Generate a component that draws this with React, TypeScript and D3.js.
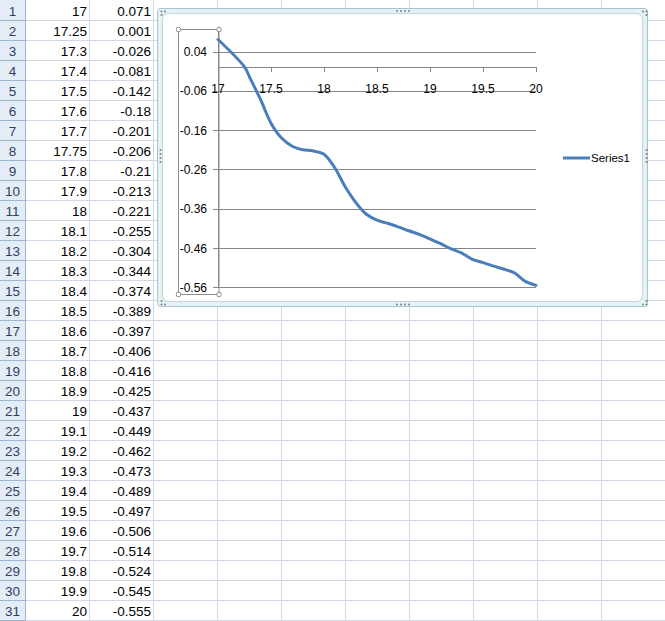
import React from "react";
import * as d3 from "d3";

const xValues = [17, 17.25, 17.3, 17.4, 17.5, 17.6, 17.7, 17.75, 17.8, 17.9, 18, 18.1, 18.2, 18.3, 18.4, 18.5, 18.6, 18.7, 18.8, 18.9, 19, 19.1, 19.2, 19.3, 19.4, 19.5, 19.6, 19.7, 19.8, 19.9, 20];
const yValues = [0.071, 0.001, -0.026, -0.081, -0.142, -0.18, -0.201, -0.206, -0.21, -0.213, -0.221, -0.255, -0.304, -0.344, -0.374, -0.389, -0.397, -0.406, -0.416, -0.425, -0.437, -0.449, -0.462, -0.473, -0.489, -0.497, -0.506, -0.514, -0.524, -0.545, -0.555];
const yTickLabels = ["0.04", "-0.06", "-0.16", "-0.26", "-0.36", "-0.46", "-0.56"];
const xTickLabels = ["17", "17.5", "18", "18.5", "19", "19.5", "20"];
const seriesName = "Series1";

const W = 665;
const H = 621;
const ROW_H = 20;
const HEADER_W = 25;
const COL_W = 64;
const FONT = "'Liberation Sans', Arial, sans-serif";
const LINE_COLOR = "#4a7ebb";

export default function App() {
  const x = d3.scaleLinear().domain([17, 20]).range([218, 536]);
  const y = d3.scaleLinear().domain([-0.56, 0.1]).range([287.3, 28.1]);
  const pts: [number, number][] = xValues.map((v, i) => [v, yValues[i]]);
  const line = d3
    .line<[number, number]>()
    .x((d) => x(d[0]))
    .y((d) => y(d[1]))
    .curve(d3.curveCatmullRom.alpha(0.5));

  const rows = d3.range(31);
  const colLines = d3.range(11).map((i) => HEADER_W + i * COL_W);
  const y0 = y(0);
  const plotLeft = x(17);
  const plotRight = x(20);

  const dot = (cx: number, cy: number, k: string) => (
    <rect key={k} x={cx - 0.8} y={cy - 0.8} width={1.6} height={1.6} fill="#6f6f6f" />
  );

  return (
    <svg
      width={W}
      height={H}
      style={{ position: "absolute", left: 0, top: 0, background: "#fff" }}
      fontFamily={FONT}
    >
      {/* spreadsheet grid */}
      <rect x={0} y={0} width={HEADER_W} height={H} fill="#e4ecf7" />
      {rows.map((r) => (
        <line key={"h" + r} x1={0} x2={W} y1={21 + r * ROW_H - 0.5} y2={21 + r * ROW_H - 0.5} stroke="#d0d7e5" />
      ))}
      {rows.map((r) => (
        <line key={"hh" + r} x1={0} x2={HEADER_W} y1={21 + r * ROW_H - 0.5} y2={21 + r * ROW_H - 0.5} stroke="#9eb6ce" />
      ))}
      {colLines.map((cx, i) => (
        <line key={"v" + i} x1={cx + 0.5} x2={cx + 0.5} y1={0} y2={H} stroke={i === 0 ? "#9eb6ce" : "#d0d7e5"} />
      ))}
      {rows.map((r) => (
        <g key={"t" + r} fontSize={13.5}>
          <text x={12.5} y={11 + r * ROW_H + 5} textAnchor="middle" fill="#2f3f5f">
            {r + 1}
          </text>
          <text x={87} y={11 + r * ROW_H + 5} textAnchor="end" fill="#000">
            {String(xValues[r])}
          </text>
          <text x={151} y={11 + r * ROW_H + 5} textAnchor="end" fill="#000">
            {String(yValues[r])}
          </text>
        </g>
      ))}

      {/* chart frame */}
      <rect x={157.5} y={8.5} width={490} height={298} fill="#e3f2f5" stroke="#a9c4cc" rx={3} />
      <rect x={162.5} y={13.5} width={480} height={288} fill="#fff" stroke="#c6d3d8" rx={6} />
      {[397, 401, 405, 409].map((cx, i) => dot(cx, 11, "tm" + i))}
      {[397, 401, 405, 409].map((cx, i) => dot(cx, 304.5, "bm" + i))}
      {[150, 154, 158, 162].map((cy, i) => dot(160.5, cy, "lm" + i))}
      {[150, 154, 158, 162].map((cy, i) => dot(646.5, cy, "rm" + i))}
      {dot(161.5, 11.5, "c1")}
      {dot(165, 11.5, "c2")}
      {dot(161.5, 15, "c3")}
      {dot(643, 11.5, "c4")}
      {dot(646.5, 11.5, "c5")}
      {dot(646.5, 15, "c6")}
      {dot(161.5, 304.5, "c7")}
      {dot(165, 304.5, "c8")}
      {dot(161.5, 301, "c9")}
      {dot(643, 304.5, "c10")}
      {dot(646.5, 304.5, "c11")}
      {dot(646.5, 301, "c12")}

      {/* gridlines */}
      {yTickLabels.map((t) => (
        <line
          key={"g" + t}
          x1={plotLeft}
          x2={plotRight}
          y1={Math.round(y(+t)) + 0.5}
          y2={Math.round(y(+t)) + 0.5}
          stroke="#868686"
        />
      ))}
      {/* y axis */}
      <line x1={plotLeft + 0.5} x2={plotLeft + 0.5} y1={y(0.1)} y2={y(-0.56)} stroke="#868686" />
      {yTickLabels.map((t) => (
        <g key={"yt" + t}>
          <line x1={plotLeft - 5} x2={plotLeft} y1={Math.round(y(+t)) + 0.5} y2={Math.round(y(+t)) + 0.5} stroke="#868686" />
          <text x={207} y={y(+t) + 4.5} textAnchor="end" fontSize={12} fill="#000">
            {t}
          </text>
        </g>
      ))}
      {/* x axis */}
      <line x1={plotLeft} x2={plotRight} y1={Math.round(y0) + 0.5} y2={Math.round(y0) + 0.5} stroke="#868686" />
      {xTickLabels.map((t) => (
        <g key={"xt" + t}>
          <line x1={Math.round(x(+t)) + 0.5} x2={Math.round(x(+t)) + 0.5} y1={Math.round(y0)} y2={Math.round(y0) + 5} stroke="#868686" />
          <text x={x(+t)} y={93} textAnchor="middle" fontSize={12} fill="#000">
            {t}
          </text>
        </g>
      ))}

      {/* selected axis box */}
      <rect x={178.5} y={29.5} width={40.5} height={265} fill="none" stroke="#8c8c8c" />
      {[
        [178.5, 29.5],
        [219, 29.5],
        [178.5, 294.5],
        [219, 294.5],
      ].map(([cx, cy], i) => (
        <circle key={"hc" + i} cx={cx} cy={cy} r={2.3} fill="#fff" stroke="#8c8c8c" />
      ))}

      {/* series line */}
      <path d={line(pts) || ""} fill="none" stroke={LINE_COLOR} strokeWidth={3} strokeLinejoin="round" strokeLinecap="round" />

      {/* legend */}
      <line x1={563} x2={590} y1={158} y2={158} stroke={LINE_COLOR} strokeWidth={3} />
      <text x={591} y={162} fontSize={11.5} fill="#000">
        {seriesName}
      </text>
    </svg>
  );
}
